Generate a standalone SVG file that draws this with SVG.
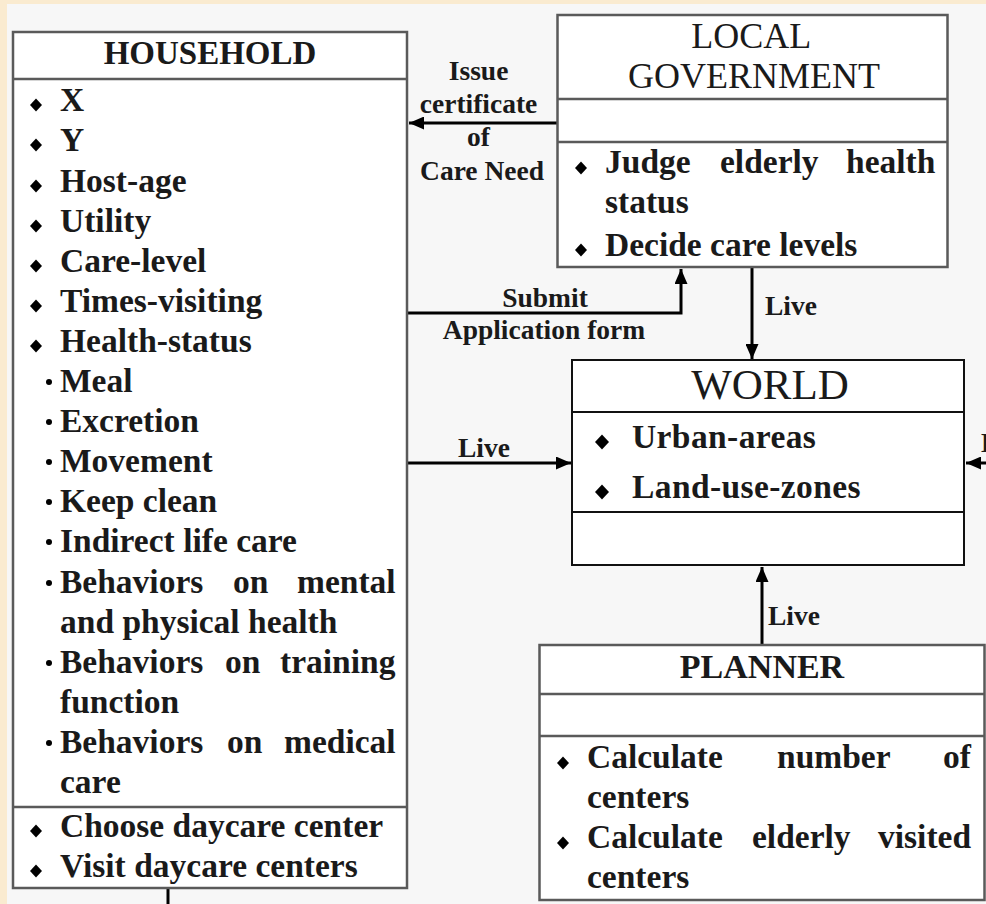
<svg xmlns="http://www.w3.org/2000/svg" width="986" height="904" viewBox="0 0 986 904">
  <style>
    .box { fill: #ffffff; stroke: #5a5a5a; stroke-width: 2.5; }
    .div { stroke: #5a5a5a; stroke-width: 2.5; }
    .wbox { fill: #ffffff; stroke: #111111; stroke-width: 2; }
    .wdiv { stroke: #111111; stroke-width: 2; }
    .hdr { font-family: "Liberation Serif", "Times New Roman", serif; fill: #1a1a1a; text-anchor: middle; }
    .item { font-family: "Liberation Serif", "Times New Roman", serif; font-weight: bold; font-size: 33.5px; fill: #1a1a1a; }
    .lbl { font-family: "Liberation Serif", "Times New Roman", serif; font-weight: bold; font-size: 27.5px; fill: #1a1a1a; }
    .conn { fill: none; stroke: #000000; stroke-width: 3; }
    .dia { fill: #000000; }
  </style>
  <defs>
    <marker id="arrow" viewBox="0 0 15 13" refX="15" refY="6.5" markerWidth="15" markerHeight="13" markerUnits="userSpaceOnUse" orient="auto">
      <path d="M0,0 L15,6.5 L0,13 z" fill="#000000"/>
    </marker>
    <path id="dm" d="M0,-6.5 L6,0 L0,6.5 L-6,0 z"/>
    <path id="dmL" d="M0,-7.5 L7,0 L0,7.5 L-7,0 z"/>
  </defs>

  <!-- page background -->
  <rect x="0" y="0" width="986" height="904" fill="#f7f7f7"/>
  <rect x="0" y="0" width="986" height="4" fill="#faebd0"/>
  <rect x="0" y="0" width="7" height="904" fill="#faebd0"/>

  <!-- connectors -->
  <g id="connectors">
    <path class="conn" d="M557,123 H409" marker-end="url(#arrow)"/>
    <path class="conn" d="M407,313 H681 V269" marker-end="url(#arrow)"/>
    <path class="conn" d="M752,268 V359" marker-end="url(#arrow)"/>
    <path class="conn" d="M407,463 H571" marker-end="url(#arrow)"/>
    <path class="conn" d="M990,463 H966" marker-end="url(#arrow)"/>
    <path class="conn" d="M762,645 V567" marker-end="url(#arrow)"/>
    <path class="conn" d="M168,889 V904"/>
    <text class="lbl" text-anchor="middle">
      <tspan x="482" y="80">Issue</tspan>
      <tspan x="482" y="113">certificate</tspan>
      <tspan x="482" y="146">of</tspan>
      <tspan x="482" y="180">Care Need</tspan>
    </text>
    <text class="lbl" text-anchor="middle" x="545" y="307">Submit</text>
    <text class="lbl" text-anchor="middle" x="544" y="339">Application form</text>
    <text class="lbl" x="765" y="315">Live</text>
    <text class="lbl" x="458" y="457">Live</text>
    <text class="lbl" x="768" y="625">Live</text>
    <text class="lbl" x="981" y="452">Live</text>
  </g>

  <!-- HOUSEHOLD -->
  <g id="household">
    <rect class="box" x="13" y="32" width="394" height="856"/>
    <line class="div" x1="13" y1="79" x2="407" y2="79"/>
    <line class="div" x1="13" y1="807" x2="407" y2="807"/>
    <text class="hdr" x="210" y="64" font-size="33" font-weight="bold">HOUSEHOLD</text>
    <g class="dia">
      <use href="#dm" x="36" y="105"/>
      <use href="#dm" x="36" y="145"/>
      <use href="#dm" x="36" y="186"/>
      <use href="#dm" x="36" y="226"/>
      <use href="#dm" x="36" y="266"/>
      <use href="#dm" x="36" y="306"/>
      <use href="#dm" x="36" y="346"/>
      <use href="#dm" x="36" y="831"/>
      <use href="#dm" x="36" y="871"/>
      <circle cx="49" cy="382" r="3"/>
      <circle cx="49" cy="422" r="3"/>
      <circle cx="49" cy="462" r="3"/>
      <circle cx="49" cy="502" r="3"/>
      <circle cx="49" cy="542" r="3"/>
      <circle cx="49" cy="583" r="3"/>
      <circle cx="49" cy="663" r="3"/>
      <circle cx="49" cy="743" r="3"/>
    </g>
    <text class="item">
      <tspan x="60" y="111">X</tspan>
      <tspan x="60" y="151">Y</tspan>
      <tspan x="60" y="192">Host-age</tspan>
      <tspan x="60" y="232">Utility</tspan>
      <tspan x="60" y="272">Care-level</tspan>
      <tspan x="60" y="312">Times-visiting</tspan>
      <tspan x="60" y="352">Health-status</tspan>
      <tspan x="60" y="392">Meal</tspan>
      <tspan x="60" y="432">Excretion</tspan>
      <tspan x="60" y="472">Movement</tspan>
      <tspan x="60" y="512">Keep clean</tspan>
      <tspan x="60" y="552">Indirect life care</tspan>
      <tspan x="60" y="593">Behaviors</tspan><tspan x="233">on</tspan><tspan x="297">mental</tspan>
      <tspan x="60" y="633">and physical health</tspan>
      <tspan x="60" y="673">Behaviors</tspan><tspan x="225">on</tspan><tspan x="280">training</tspan>
      <tspan x="60" y="713">function</tspan>
      <tspan x="60" y="753">Behaviors</tspan><tspan x="227">on</tspan><tspan x="284">medical</tspan>
      <tspan x="60" y="793">care</tspan>
      <tspan x="60" y="837">Choose daycare center</tspan>
      <tspan x="60" y="877">Visit daycare centers</tspan>
    </text>
  </g>

  <!-- LOCAL GOVERNMENT -->
  <g id="local-government">
    <rect class="box" x="557.5" y="15" width="390" height="252"/>
    <line class="div" x1="557.5" y1="99" x2="947.5" y2="99"/>
    <line class="div" x1="557.5" y1="142" x2="947.5" y2="142"/>
    <text class="hdr" font-size="36">
      <tspan x="755" y="48">LOCAL</tspan>
      <tspan x="754" y="88">GOVERNMENT</tspan>
    </text>
    <g class="dia">
      <use href="#dm" x="581" y="168"/>
      <use href="#dm" x="581" y="250"/>
    </g>
    <text class="item">
      <tspan x="605" y="173">Judge</tspan><tspan x="720">elderly</tspan><tspan x="846">health</tspan>
      <tspan x="605" y="213">status</tspan>
      <tspan x="605" y="256">Decide care levels</tspan>
    </text>
  </g>

  <!-- WORLD -->
  <g id="world">
    <rect class="wbox" x="572" y="360" width="392" height="205"/>
    <line class="wdiv" x1="572" y1="412" x2="964" y2="412"/>
    <line class="wdiv" x1="572" y1="512" x2="964" y2="512"/>
    <text class="hdr" x="770" y="399" font-size="43">WORLD</text>
    <g class="dia">
      <use href="#dmL" x="602" y="442"/>
      <use href="#dmL" x="602" y="492"/>
    </g>
    <text class="item" font-size="37" letter-spacing="0.4">
      <tspan x="632" y="448">Urban-areas</tspan>
      <tspan x="632" y="498">Land-use-zones</tspan>
    </text>
  </g>

  <!-- PLANNER -->
  <g id="planner">
    <rect class="box" x="539.5" y="645" width="445" height="255"/>
    <line class="div" x1="539.5" y1="694" x2="984.5" y2="694"/>
    <line class="div" x1="539.5" y1="736" x2="984.5" y2="736"/>
    <text class="hdr" x="762" y="678" font-size="34" font-weight="bold">PLANNER</text>
    <g class="dia">
      <use href="#dm" x="563" y="763"/>
      <use href="#dm" x="563" y="843"/>
    </g>
    <text class="item">
      <tspan x="587" y="768">Calculate</tspan><tspan x="777">number</tspan><tspan x="943">of</tspan>
      <tspan x="587" y="808">centers</tspan>
      <tspan x="587" y="848">Calculate</tspan><tspan x="752">elderly</tspan><tspan x="878">visited</tspan>
      <tspan x="587" y="888">centers</tspan>
    </text>
  </g>
</svg>
